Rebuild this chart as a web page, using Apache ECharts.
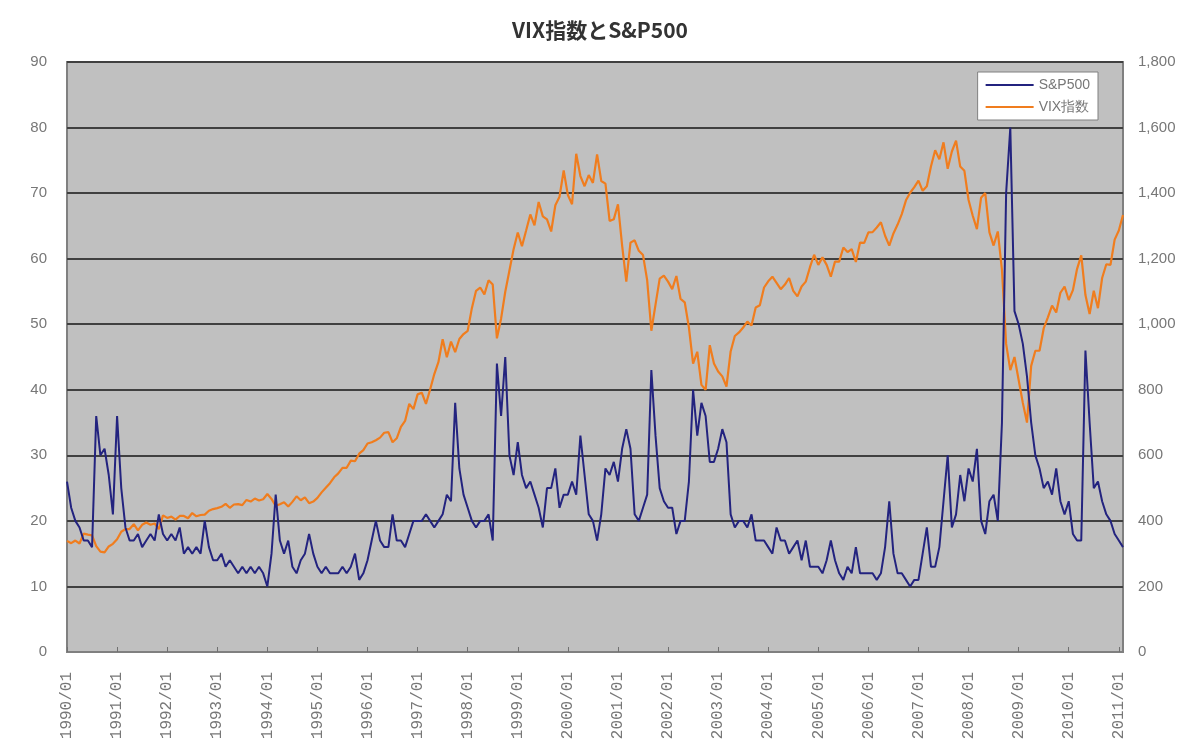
<!DOCTYPE html>
<html>
<head>
<meta charset="utf-8">
<title>VIX指数とS&P500</title>
<script src="https://cdn.jsdelivr.net/npm/echarts@6/dist/echarts.min.js"></script>
<style>
  html, body { margin: 0; padding: 0; background: #fff; }
  #main { width: 1200px; height: 750px; }
</style>
</head>
<body>
<div id="main"></div>
<script>
// month labels 1990/01 .. 2011/02
var startYear = 1990, endYear = 2011, endMonth = 2;
var months = [];
for (var y = startYear; y <= endYear; y++) {
    for (var m = 1; m <= 12; m++) {
        if (y === endYear && m > endMonth) break;
        months.push(y + '/' + (m < 10 ? '0' + m : m));
    }
}

// left axis line (navy) - legend in the original labels it "S&P500"
var navyValues = [
    26, 22, 20, 19, 17, 17, 16, 36, 30, 31, 27, 21,   // 1990
    36, 25, 19, 17, 17, 18, 16, 17, 18, 17, 21, 18,   // 1991
    17, 18, 17, 19, 15, 16, 15, 16, 15, 20, 16, 14,   // 1992
    14, 15, 13, 14, 13, 12, 13, 12, 13, 12, 13, 12,   // 1993
    10, 15, 24, 17, 15, 17, 13, 12, 14, 15, 18, 15,   // 1994
    13, 12, 13, 12, 12, 12, 13, 12, 13, 15, 11, 12,   // 1995
    14, 17, 20, 17, 16, 16, 21, 17, 17, 16, 18, 20,   // 1996
    20, 20, 21, 20, 19, 20, 21, 24, 23, 38, 28, 24,   // 1997
    22, 20, 19, 20, 20, 21, 17, 44, 36, 45, 30, 27,   // 1998
    32, 27, 25, 26, 24, 22, 19, 25, 25, 28, 22, 24,   // 1999
    24, 26, 24, 33, 27, 21, 20, 17, 21, 28, 27, 29,   // 2000
    26, 31, 34, 31, 21, 20, 22, 24, 43, 33, 25, 23,   // 2001
    22, 22, 18, 20, 20, 26, 40, 33, 38, 36, 29, 29,   // 2002
    31, 34, 32, 21, 19, 20, 20, 19, 21, 17, 17, 17,   // 2003
    16, 15, 19, 17, 17, 15, 16, 17, 14, 17, 13, 13,   // 2004
    13, 12, 14, 17, 14, 12, 11, 13, 12, 16, 12, 12,   // 2005
    12, 12, 11, 12, 16, 23, 15, 12, 12, 11, 10, 11,   // 2006
    11, 15, 19, 13, 13, 16, 23, 30, 19, 21, 27, 23,   // 2007
    28, 26, 31, 20, 18, 23, 24, 20, 35, 70, 80, 52,   // 2008
    50, 47, 42, 35, 30, 28, 25, 26, 24, 28, 23, 21,   // 2009
    23, 18, 17, 17, 46, 35, 25, 26, 23, 21, 20, 18,   // 2010
    17, 16                                             // 2011
];

// right axis line (orange) - legend in the original labels it "VIX指数"
var orangeValues = [
    339, 332, 340, 331, 361, 358, 356, 323, 306, 304, 322, 330,          // 1990
    344, 367, 375, 375, 390, 371, 388, 395, 388, 392, 375, 417,          // 1991
    409, 413, 404, 415, 415, 408, 424, 414, 418, 419, 431, 436,          // 1992
    439, 443, 452, 440, 450, 451, 448, 464, 459, 468, 462, 466,          // 1993
    482, 467, 446, 451, 457, 444, 458, 475, 463, 472, 454, 459,          // 1994
    470, 487, 501, 515, 533, 545, 562, 562, 584, 582, 605, 616,          // 1995
    636, 640, 646, 654, 669, 671, 640, 652, 687, 705, 757, 741,          // 1996
    786, 791, 757, 801, 848, 885, 954, 899, 947, 915, 955, 970,          // 1997
    980, 1049, 1102, 1112, 1091, 1134, 1121, 957, 1017, 1099, 1164, 1229, // 1998
    1280, 1238, 1286, 1335, 1302, 1373, 1329, 1320, 1283, 1363, 1389, 1469, // 1999
    1394, 1366, 1520, 1452, 1421, 1455, 1431, 1518, 1437, 1429, 1315, 1320, // 2000
    1366, 1240, 1130, 1249, 1256, 1224, 1211, 1134, 980, 1060, 1139, 1148, // 2001
    1130, 1107, 1147, 1077, 1067, 990, 880, 916, 815, 800, 936, 880,     // 2002
    856, 841, 810, 917, 964, 975, 990, 1008, 996, 1051, 1058, 1112,      // 2003
    1131, 1145, 1126, 1107, 1121, 1141, 1102, 1085, 1115, 1130, 1174, 1212, // 2004
    1181, 1204, 1181, 1145, 1191, 1191, 1234, 1220, 1229, 1190, 1249, 1248, // 2005
    1280, 1281, 1295, 1311, 1270, 1240, 1277, 1304, 1336, 1378, 1401, 1418, // 2006
    1438, 1407, 1421, 1482, 1531, 1503, 1555, 1474, 1527, 1560, 1481, 1468, // 2007
    1379, 1331, 1290, 1386, 1400, 1280, 1240, 1283, 1166, 940, 860, 900, // 2008
    830, 760, 700, 873, 919, 919, 987, 1021, 1057, 1036, 1096, 1115,     // 2009
    1074, 1104, 1169, 1210, 1089, 1031, 1102, 1049, 1141, 1183, 1181, 1258, // 2010
    1286, 1333                                                           // 2011
];

var leftTicks = { min: 0, max: 90, interval: 10 };
var rightTicks = { min: 0, max: 1800, interval: 200 };

var isJanuary = function (index, value) {
    return value.slice(-3) === '/01';
};

var myChart = echarts.init(document.getElementById('main'));
myChart.setOption({
    backgroundColor: '#ffffff',
    animation: false,
    title: {
        text: 'VIX指数とS&P500',
        left: 'center',
        top: 15,
        textStyle: {
            fontFamily: 'Noto Sans CJK JP',
            fontSize: 21,
            fontWeight: 'bold',
            color: '#333'
        }
    },
    legend: {
        orient: 'vertical',
        right: 102,
        top: 72,
        padding: [6, 8, 6, 8],
        itemGap: 8,
        itemWidth: 48,
        itemHeight: 2,
        icon: 'rect',
        backgroundColor: '#ffffff',
        borderColor: '#808080',
        borderWidth: 1,
        textStyle: {
            fontFamily: 'Liberation Sans',
            fontSize: 14,
            color: '#777'
        },
        data: ['S&P500', 'VIX指数']
    },
    grid: {
        left: 67,
        right: 77,
        top: 62,
        bottom: 98,
        show: true,
        backgroundColor: '#c0c0c0',
        borderColor: '#808080',
        borderWidth: 2
    },
    xAxis: {
        type: 'category',
        data: months,
        boundaryGap: false,
        axisLine: {
            lineStyle: { color: '#808080', width: 2 }
        },
        axisTick: {
            inside: true,
            length: 5,
            interval: isJanuary,
            lineStyle: { color: '#707070' }
        },
        axisLabel: {
            interval: isJanuary,
            rotate: 90,
            margin: 20,
            fontFamily: 'Liberation Mono',
            fontSize: 16,
            color: '#777'
        },
        splitLine: { show: false }
    },
    yAxis: [
        {
            type: 'value',
            min: leftTicks.min,
            max: leftTicks.max,
            interval: leftTicks.interval,
            axisLine: { show: false },
            axisTick: { show: false },
            axisLabel: {
                margin: 20,
                fontFamily: 'Liberation Sans',
                fontSize: 15,
                color: '#777'
            },
            splitLine: {
                lineStyle: { color: '#404040', width: 2 }
            }
        },
        {
            type: 'value',
            min: rightTicks.min,
            max: rightTicks.max,
            interval: rightTicks.interval,
            axisLine: { show: false },
            axisTick: { show: false },
            axisLabel: {
                margin: 15,
                fontFamily: 'Liberation Sans',
                fontSize: 15,
                color: '#777',
                formatter: function (v) { return v.toLocaleString('en-US'); }
            },
            splitLine: { show: false }
        }
    ],
    series: [
        {
            name: 'S&P500',
            type: 'line',
            yAxisIndex: 0,
            symbol: 'none',
            color: '#23237f',
            lineStyle: { width: 2 },
            z: 3,
            data: navyValues
        },
        {
            name: 'VIX指数',
            type: 'line',
            yAxisIndex: 1,
            symbol: 'none',
            color: '#f07d1e',
            lineStyle: { width: 2.2 },
            z: 2,
            data: orangeValues
        }
    ]
});
</script>
</body>
</html>
